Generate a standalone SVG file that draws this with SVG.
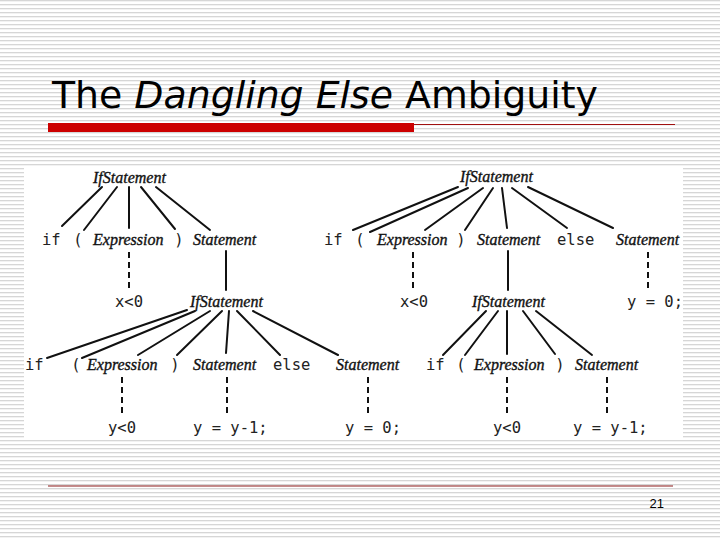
<svg xmlns="http://www.w3.org/2000/svg" width="720" height="540" viewBox="0 0 720 540">
<defs>
<pattern id="stripes" x="0" y="0" width="4" height="4" patternUnits="userSpaceOnUse">
<rect x="0" y="0" width="4" height="4" fill="#ffffff"/>
<rect x="0" y="0" width="4" height="1.3" fill="#d6d6d6"/>
</pattern>
<style>
.nt{font-family:"Liberation Serif","Times New Roman",serif;font-style:italic;font-size:16px;fill:#111;stroke:#111;stroke-width:0.35px;}
.tk{font-family:"DejaVu Sans Mono","Liberation Mono",monospace;font-size:15.5px;fill:#222;}
.c{stroke:#111;stroke-width:2;fill:none;stroke-linecap:round;}
.d{stroke:#111;stroke-width:2;fill:none;stroke-dasharray:6 4;}
</style>
</defs>
<rect x="0" y="0" width="720" height="540" fill="url(#stripes)"/>
<g id="title">
<text x="52" y="108" font-family="DejaVu Sans, Verdana, sans-serif" font-size="38" fill="#000" textLength="546" lengthAdjust="spacingAndGlyphs">The <tspan font-style="italic">Dangling Else</tspan> Ambiguity</text>
<rect x="48" y="123" width="366" height="9" fill="#cc0000"/>
<line x1="414" y1="124.5" x2="675" y2="124.5" stroke="#a01010" stroke-width="1"/>
</g>
<rect x="24" y="166" width="659" height="273" fill="#ffffff"/>
<g id="connectors">
<line class="c" x1="102" y1="187" x2="62" y2="226"/>
<line class="c" x1="117" y1="187" x2="84" y2="230"/>
<line class="c" x1="129" y1="187" x2="129" y2="228"/>
<line class="c" x1="141" y1="187" x2="175" y2="229"/>
<line class="c" x1="156" y1="187" x2="210" y2="230"/>
<line class="d" x1="129" y1="252" x2="129" y2="290"/>
<line class="c" x1="226" y1="251" x2="226" y2="290"/>
<line class="c" x1="187" y1="310" x2="47" y2="358"/>
<line class="c" x1="195" y1="311" x2="82" y2="358"/>
<line class="c" x1="210" y1="311" x2="138" y2="355"/>
<line class="c" x1="222" y1="311" x2="177" y2="355"/>
<line class="c" x1="229" y1="311" x2="226" y2="353"/>
<line class="c" x1="237" y1="311" x2="280" y2="355"/>
<line class="c" x1="253" y1="311" x2="338" y2="355"/>
<line class="d" x1="122" y1="377" x2="122" y2="417"/>
<line class="d" x1="227" y1="377" x2="227" y2="417"/>
<line class="d" x1="368" y1="377" x2="368" y2="417"/>
<line class="c" x1="458" y1="187" x2="353" y2="230"/>
<line class="c" x1="468" y1="188" x2="370" y2="232"/>
<line class="c" x1="483" y1="188" x2="425" y2="230"/>
<line class="c" x1="493" y1="188" x2="465" y2="230"/>
<line class="c" x1="502" y1="188" x2="507" y2="228"/>
<line class="c" x1="512" y1="188" x2="567" y2="228"/>
<line class="c" x1="528" y1="187" x2="613" y2="228"/>
<line class="d" x1="413" y1="252" x2="413" y2="290"/>
<line class="c" x1="508" y1="251" x2="508" y2="290"/>
<line class="d" x1="648" y1="252" x2="648" y2="290"/>
<line class="c" x1="486" y1="311" x2="443" y2="355"/>
<line class="c" x1="498" y1="311" x2="465" y2="355"/>
<line class="c" x1="507" y1="311" x2="507" y2="354"/>
<line class="c" x1="523" y1="311" x2="555" y2="354"/>
<line class="c" x1="536" y1="311" x2="592" y2="355"/>
<line class="d" x1="507" y1="377" x2="507" y2="417"/>
<line class="d" x1="607" y1="377" x2="607" y2="417"/>
</g>
<g id="L-if1"><text class="nt" x="93" y="183">IfStatement</text></g>
<g id="L-if1-if"><text class="tk" x="42" y="245">if</text></g>
<g id="L-if1-lp"><text class="tk" x="78" y="245" text-anchor="middle">(</text></g>
<g id="L-if1-expr"><text class="nt" x="93" y="245">Expression</text></g>
<g id="L-if1-rp"><text class="tk" x="179" y="245" text-anchor="middle">)</text></g>
<g id="L-if1-stmt"><text class="nt" x="193" y="245">Statement</text></g>
<g id="L-x0"><text class="tk" x="115" y="307">x&lt;0</text></g>
<g id="L-if2"><text class="nt" x="190" y="307">IfStatement</text></g>
<g id="L-if2-if"><text class="tk" x="25" y="370">if</text></g>
<g id="L-if2-lp"><text class="tk" x="76" y="370" text-anchor="middle">(</text></g>
<g id="L-if2-expr"><text class="nt" x="87" y="370">Expression</text></g>
<g id="L-if2-rp"><text class="tk" x="175" y="370" text-anchor="middle">)</text></g>
<g id="L-if2-stmt1"><text class="nt" x="193" y="370">Statement</text></g>
<g id="L-if2-else"><text class="tk" x="273" y="370">else</text></g>
<g id="L-if2-stmt2"><text class="nt" x="336" y="370">Statement</text></g>
<g id="L-y0"><text class="tk" x="108" y="433">y&lt;0</text></g>
<g id="L-ym1"><text class="tk" x="193" y="433">y = y-1;</text></g>
<g id="L-yz"><text class="tk" x="345" y="433">y = 0;</text></g>
<g id="R-if1"><text class="nt" x="460" y="182">IfStatement</text></g>
<g id="R-if1-if"><text class="tk" x="324" y="245">if</text></g>
<g id="R-if1-lp"><text class="tk" x="360" y="245" text-anchor="middle">(</text></g>
<g id="R-if1-expr"><text class="nt" x="377" y="245">Expression</text></g>
<g id="R-if1-rp"><text class="tk" x="461" y="245" text-anchor="middle">)</text></g>
<g id="R-if1-stmt1"><text class="nt" x="477" y="245">Statement</text></g>
<g id="R-if1-else"><text class="tk" x="557" y="245">else</text></g>
<g id="R-if1-stmt2"><text class="nt" x="616" y="245">Statement</text></g>
<g id="R-x0"><text class="tk" x="400" y="307">x&lt;0</text></g>
<g id="R-if2"><text class="nt" x="472" y="307">IfStatement</text></g>
<g id="R-yz"><text class="tk" x="627" y="307">y = 0;</text></g>
<g id="R-if2-if"><text class="tk" x="426" y="370">if</text></g>
<g id="R-if2-lp"><text class="tk" x="461" y="370" text-anchor="middle">(</text></g>
<g id="R-if2-expr"><text class="nt" x="474" y="370">Expression</text></g>
<g id="R-if2-rp"><text class="tk" x="560" y="370" text-anchor="middle">)</text></g>
<g id="R-if2-stmt"><text class="nt" x="575" y="370">Statement</text></g>
<g id="R-y0"><text class="tk" x="493" y="433">y&lt;0</text></g>
<g id="R-ym1"><text class="tk" x="573" y="433">y = y-1;</text></g>
<g id="footer">
<line x1="48" y1="486" x2="673" y2="486" stroke="#8b1a1a" stroke-width="1.2"/>
<text x="664" y="508" text-anchor="end" font-family="Liberation Sans, Arial, sans-serif" font-size="13" fill="#000">21</text>
</g>
</svg>
